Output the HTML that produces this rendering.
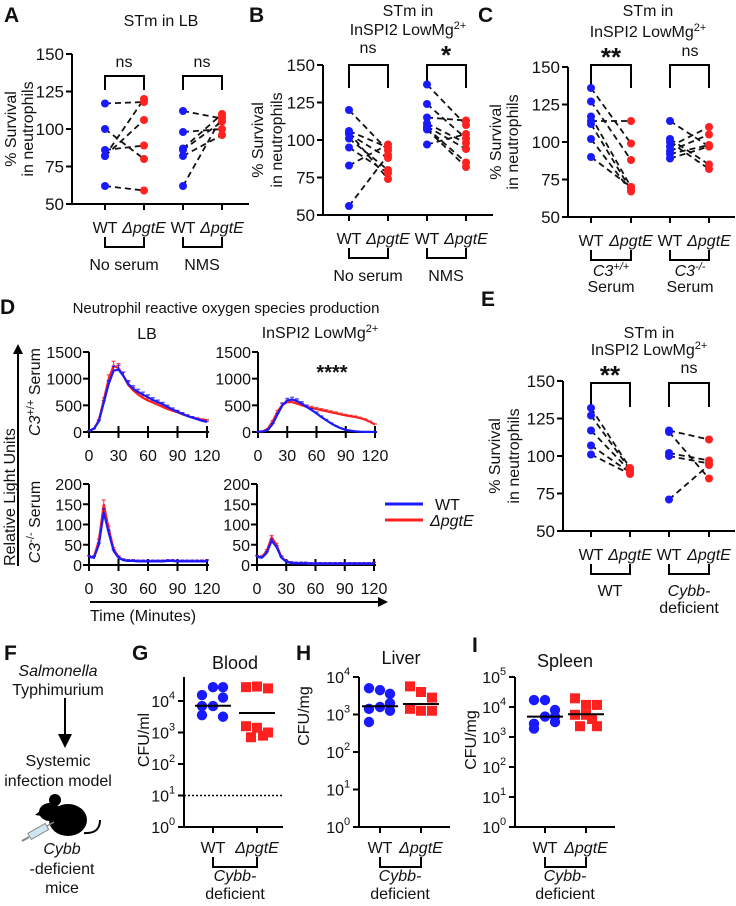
<!DOCTYPE html>
<html><head><meta charset="utf-8"><style>
html,body{margin:0;padding:0;background:#fff}
svg{display:block;font-family:"Liberation Sans",Arial,sans-serif}
text{fill:#111}
</style></head><body>
<svg id="fig" width="736" height="906" viewBox="0 0 736 906" xmlns="http://www.w3.org/2000/svg">
<g font-weight="bold" font-size="21">
<text x="4" y="22">A</text>
<text x="249" y="22">B</text>
<text x="478" y="22">C</text>
<text x="0" y="314">D</text>
<text x="481" y="306">E</text>
<text x="4" y="660">F</text>
<text x="132" y="660">G</text>
<text x="296" y="660">H</text>
<text x="472" y="652">I</text>
</g>
<g font-size="16" text-anchor="middle">
<text x="161" y="26">STm in LB</text>
<text x="408" y="16">STm in</text>
<text x="408" y="35">InSPI2 LowMg<tspan dy="-6" font-size="11">2+</tspan></text>
<text x="648" y="16">STm in</text>
<text x="648" y="37">InSPI2 LowMg<tspan dy="-6" font-size="11">2+</tspan></text>
<text x="649" y="338">STm in</text>
<text x="649" y="355">InSPI2 LowMg<tspan dy="-6" font-size="11">2+</tspan></text>
<text x="226" y="313" font-size="15">Neutrophil reactive oxygen species production</text>
<text x="147" y="339">LB</text>
<text x="320" y="338">InSPI2 LowMg<tspan dy="-6" font-size="11">2+</tspan></text>
<text x="235" y="669" font-size="18">Blood</text>
<text x="401" y="664" font-size="18">Liver</text>
<text x="565" y="667" font-size="18">Spleen</text>
</g>
<g font-size="16" text-anchor="middle">
<text x="124" y="67">ns</text>
<text x="202" y="67">ns</text>
<text x="368" y="53">ns</text>
<text x="446" y="64" font-size="26" font-weight="bold">*</text>
<text x="611" y="66" font-size="26" font-weight="bold">**</text>
<text x="690" y="56">ns</text>
<text x="610" y="384" font-size="26" font-weight="bold">**</text>
<text x="689" y="373">ns</text>
<text x="332" y="379" font-size="20" font-weight="bold">****</text>
</g>
<g font-size="16" text-anchor="middle">
<text transform="translate(16,129) rotate(-90)">% Survival</text>
<text transform="translate(33,129) rotate(-90)">in neutrophils</text>
<text transform="translate(263,140) rotate(-90)">% Survival</text>
<text transform="translate(282,140) rotate(-90)">in neutrophils</text>
<text transform="translate(501,142) rotate(-90)">% Survival</text>
<text transform="translate(518,142) rotate(-90)">in neutrophils</text>
<text transform="translate(500,456) rotate(-90)">% Survival</text>
<text transform="translate(519,456) rotate(-90)">in neutrophils</text>
<text transform="translate(15,497) rotate(-90)">Relative Light Units</text>
<text transform="translate(40,392) rotate(-90)"><tspan font-style="italic">C3</tspan><tspan dy="-6" font-size="11">+/+</tspan><tspan dy="6"> Serum</tspan></text>
<text transform="translate(40,522) rotate(-90)"><tspan font-style="italic">C3</tspan><tspan dy="-6" font-size="11">-/-</tspan><tspan dy="6"> Serum</tspan></text>
<text x="90" y="621" text-anchor="start">Time (Minutes)</text>
<text transform="translate(149,740) rotate(-90)">CFU/ml</text>
<text transform="translate(309,716) rotate(-90)">CFU/mg</text>
<text transform="translate(476,740) rotate(-90)">CFU/mg</text>
</g>
<g font-size="16" text-anchor="middle">
<text x="124" y="270">No serum</text>
<text x="202" y="270">NMS</text>
<text x="368" y="281">No serum</text>
<text x="446" y="281">NMS</text>
<text x="611" y="276" font-style="italic">C3<tspan dy="-6" font-size="11">+/+</tspan></text>
<text x="611" y="292">Serum</text>
<text x="690" y="276" font-style="italic">C3<tspan dy="-6" font-size="11">-/-</tspan></text>
<text x="690" y="292">Serum</text>
<text x="610" y="596">WT</text>
<text x="689" y="596" font-style="italic">Cybb-</text>
<text x="689" y="613">deficient</text>
<text x="235" y="881" font-style="italic">Cybb-</text>
<text x="235" y="899">deficient</text>
<text x="400" y="881" font-style="italic">Cybb-</text>
<text x="400" y="899">deficient</text>
<text x="565" y="881" font-style="italic">Cybb-</text>
<text x="565" y="899">deficient</text>
</g>
<g text-anchor="middle" font-size="16">
<text x="58" y="676" font-style="italic">Salmonella</text>
<text x="58" y="695">Typhimurium</text>
<line x1="65" y1="698" x2="65" y2="735" stroke="#000" stroke-width="2"/>
<polygon points="58,734 72,734 65,748" fill="#000"/>
<text x="58" y="766">Systemic</text>
<text x="58" y="786">infection model</text>
<g>
<ellipse cx="68" cy="820" rx="19" ry="16" fill="#000"/>
<ellipse cx="50" cy="812" rx="11" ry="9" fill="#000"/>
<circle cx="55" cy="800" r="6" fill="#000"/>
<polygon points="40,811 35,815 42,816" fill="#000"/>
<path d="M84,833 Q100,834 100,820" stroke="#000" stroke-width="2" fill="none"/>
</g>
<g>
<rect x="28" y="828" width="20" height="7" fill="#cfe6f0" stroke="#888" transform="rotate(-30 38 831)"/>
<line x1="47" y1="826" x2="54" y2="822" stroke="#888" stroke-width="1.5"/>
<line x1="22" y1="841" x2="29" y2="837" stroke="#888" stroke-width="2"/>
</g>
<text x="62" y="854" font-style="italic">Cybb</text>
<text x="62" y="874">-deficient</text>
<text x="62" y="893">mice</text>
</g>
<g font-size="16">
<line x1="385" y1="504" x2="423" y2="504" stroke="#1a1aff" stroke-width="3"/>
<text x="435" y="510">WT</text>
<line x1="385" y1="520" x2="423" y2="520" stroke="#ff2020" stroke-width="3"/>
<text x="430" y="526" font-style="italic">ΔpgtE</text>
</g>
<g>
<line x1="18" y1="352" x2="18" y2="566" stroke="#000" stroke-width="2"/>
<polygon points="13,354 23,354 18,344" fill="#000"/>
<line x1="90" y1="602" x2="380" y2="602" stroke="#000" stroke-width="2"/>
<polygon points="378,597 378,607 388,602" fill="#000"/>
</g>
</svg>
<script>
// ---- data: paired survival panels ----
const pctTicks=[50,75,100,125,150];
const aNoWT=[117,100,86,82,82,62];
const aNoKO=[118,80,89,120,106,59];
const aNmsWT=[112,98,87,86,82,62];
const aNmsKO=[107,100,110,105,96,108];
const bNoWT=[120,106,105,104,101,95,83,56];
const bNoKO=[93,95,74,88,80,78,97,90];
const bNmsWT=[137,124,115,111,109,108,107,97];
const bNmsKO=[110,101,113,98,94,85,82,104];
const cPosWT=[136,127,117,114,112,102,90];
const cPosKO=[99,88,70,114,68,67,70];
const cNegWT=[114,102,100,97,94,92,89];
const cNegKO=[97,85,82,110,105,98,97];
const eWtWT=[132,127,117,107,101];
const eWtKO=[92,91,90,89,88];
const eCyWT=[117,116,102,100,71];
const eCyKO=[111,85,97,95,94];
// ---- data: ROS time course ----
const timePts=[0,5,10,15,20,25,30,35,40,45,50,55,60,65,70,75,80,85,90,95,100,105,110,115,120];
const timeTicks=[0,30,60,90,120];
const rluTicksTop=[0,500,1000,1500];
const rluTicksBot=[0,50,100,150,200];
const lbPosWT=[20,60,200,550,900,1150,1170,1050,900,810,750,700,650,600,560,520,470,420,380,340,300,270,240,210,190];
const lbPosKO=[20,60,220,600,1000,1240,1200,1050,880,780,700,640,590,550,510,470,430,400,370,330,300,270,250,230,220];
const inPosWT=[5,10,40,150,330,500,590,610,580,530,470,410,350,280,220,160,110,70,40,25,12,6,3,2,1];
const inPosKO=[5,15,60,200,380,510,560,560,530,500,470,450,430,410,390,370,350,330,310,295,280,260,230,190,140];
const lbNegWT=[20,18,50,130,80,35,18,12,10,10,9,9,9,9,9,9,10,10,9,9,9,9,9,9,9];
const lbNegKO=[20,20,60,150,90,40,20,12,10,10,9,9,9,9,9,9,10,10,9,9,9,9,9,9,10];
const inNegWT=[20,18,30,60,45,18,8,5,4,4,4,3,3,3,3,3,3,3,3,3,3,3,3,3,3];
const inNegKO=[20,20,35,68,50,20,9,5,4,4,4,3,3,3,3,3,3,3,3,3,3,3,3,3,4];
// ---- data: CFU (log10) ----
const logTicksG=[0,1,2,3,4];
const logTicksH=[0,1,2,3,4];
const logTicksI=[0,1,2,3,4,5];
const gWT=[4.19,4.44,4.44,4.11,3.84,3.84,3.5,3.55];
const gKO=[4.44,4.46,4.4,3.2,3.15,3.0,2.85,2.9];
const gMean=[3.85,3.62];
const gLimit=[1];
const hWT=[3.7,3.65,3.55,3.3,3.2,3.15,3.1,2.8];
const hKO=[3.75,3.6,3.45,3.15,3.1,3.1];
const hMean=[3.22,3.28];
const iWT=[4.23,4.23,3.9,3.68,3.68,3.44,3.5,3.28];
const iKO=[4.29,4.07,4.07,3.74,3.74,3.36,3.36,3.6];
const iMean=[3.68,3.76];

const NS='http://www.w3.org/2000/svg';
const svg=document.getElementById('fig');
function mk(tag,attrs,parent){const e=document.createElementNS(NS,tag);for(const k in attrs)e.setAttribute(k,attrs[k]);(parent||svg).appendChild(e);return e;}
const BLUE='#1a1aff',RED='#ff2020';

function paired(c){
  const g=mk('g',{});
  
  
  const y=v=>c.y50-(v-50)*(c.y50-c.y150)/100;
  const ya=mk('line',{x1:c.ax,y1:y(150),x2:c.ax,y2:c.y50+1,stroke:'#000','stroke-width':2},g);
  
  
  const xa=mk('line',{x1:c.ax-1,y1:c.y50,x2:c.xEnd,y2:c.y50,stroke:'#000','stroke-width':2},g);
  
  
  pctTicks.forEach(v=>{
    const t=mk('line',{x1:c.ax-6,y1:y(v),x2:c.ax,y2:y(v),stroke:'#000','stroke-width':2},g);
    
    
    const l=mk('text',{x:c.ax-8,y:y(v)+6,'text-anchor':'end','font-size':17},g);l.textContent=v;
    
    
  });
  c.g.forEach((gx,i)=>{
    const t=mk('line',{x1:gx,y1:c.y50,x2:gx,y2:c.y50+6,stroke:'#000','stroke-width':2},g);
    
    
    const l=mk('text',{x:gx,y:c.y50+29,'text-anchor':'middle','font-size':16},g);
    l.textContent=i%2?'ΔpgtE':'WT';
    if(i%2)l.setAttribute('font-style','italic');
    
    
  });
  [0,2].forEach(k=>{
    const b=mk('path',{d:`M${c.g[k]},${c.y50+33}V${c.y50+43}H${c.g[k+1]}V${c.y50+33}`,stroke:'#000','stroke-width':2,fill:'none'},g);
    
    
    const s=mk('path',{d:`M${c.g[k]},${c.sb}V${c.st}H${c.g[k+1]}V${c.sb}`,stroke:'#000','stroke-width':2,fill:'none'},g);
    
    
  });
  c.pairs.forEach((p,k)=>{
    const x0=c.g[2*k],x1=c.g[2*k+1];
    p[0].forEach((v,i)=>{
      const ln=mk('line',{x1:x0,y1:y(v),x2:x1,y2:y(p[1][i]),stroke:'#111','stroke-width':1.8,'stroke-dasharray':'6,4'},g);
      
      
    });
    p[0].forEach(v=>{
      const d=mk('circle',{cx:x0,cy:y(v),r:4,fill:BLUE},g);
      
      
    });
    p[1].forEach(v=>{
      const d=mk('circle',{cx:x1,cy:y(v),r:4,fill:RED},g);
      
      
    });
  });
}
paired({name:'panel-a-chart',ax:72,y150:54,y50:204,xEnd:249,g:[105,144,183,222],st:76,sb:90,pairs:[[aNoWT,aNoKO],[aNmsWT,aNmsKO]]});
paired({name:'panel-b-chart',ax:323,y150:65,y50:215,xEnd:493,g:[349,388,427,466],st:65,sb:88,pairs:[[bNoWT,bNoKO],[bNmsWT,bNmsKO]]});
paired({name:'panel-c-chart',ax:568,y150:67,y50:217,xEnd:735,g:[591,631,670,709],st:65,sb:88,pairs:[[cPosWT,cPosKO],[cNegWT,cNegKO]]});
paired({name:'panel-e-chart',ax:563,y150:381,y50:531,xEnd:735,g:[591,630,669,709],st:383,sb:407,pairs:[[eWtWT,eWtKO],[eCyWT,eCyKO]]});

function tc(c){
  const g=mk('g',{});
  
  
  const ymax=c.ticks[c.ticks.length-1];
  const x=t=>c.x0+t*(c.x1-c.x0)/120;
  const y=v=>c.yb-v*(c.yb-c.yt)/ymax;
  const ya=mk('line',{x1:c.x0,y1:c.yt,x2:c.x0,y2:c.yb+1,stroke:'#000','stroke-width':2},g);
  
  
  const xa=mk('line',{x1:c.x0-1,y1:c.yb,x2:c.x1+2,y2:c.yb,stroke:'#000','stroke-width':2},g);
  
  
  c.ticks.forEach(v=>{
    const t=mk('line',{x1:c.x0-6,y1:y(v),x2:c.x0,y2:y(v),stroke:'#000','stroke-width':2},g);
    
    
    const l=mk('text',{x:c.x0-7,y:y(v)+6,'text-anchor':'end','font-size':16},g);l.textContent=v;
    
    
  });
  timeTicks.forEach(v=>{
    const t=mk('line',{x1:x(v),y1:c.yb-6,x2:x(v),y2:c.yb+6,stroke:'#000','stroke-width':2},g);
    
    
    const l=mk('text',{x:x(v),y:c.yb+29,'text-anchor':'middle','font-size':16},g);l.textContent=v;
    
    
  });
  [[c.ko,RED,'pgte'],[c.wt,BLUE,'wt']].forEach(([arr,col,nm])=>{
    arr.forEach((v,i)=>{
      const e=Math.max(v*0.07,3)*(c.yb-c.yt)/ymax;
      const eb=mk('path',{d:`M${x(timePts[i])},${y(v)}V${y(v)-e}M${x(timePts[i])-2},${y(v)-e}H${x(timePts[i])+2}`,stroke:col,'stroke-width':1.2,fill:'none',opacity:0.8},g);
      
      
    });
    const pl=mk('polyline',{points:arr.map((v,i)=>x(timePts[i])+','+y(v)).join(' '),stroke:col,'stroke-width':2.2,fill:'none'},g);
    
    
  });
}
tc({name:'d-lb-c3pos',x0:89,x1:207,yt:352,yb:432,ticks:rluTicksTop,wt:lbPosWT,ko:lbPosKO});
tc({name:'d-inspi2-c3pos',x0:258,x1:375,yt:352,yb:432,ticks:rluTicksTop,wt:inPosWT,ko:inPosKO});
tc({name:'d-lb-c3neg',x0:89,x1:207,yt:484,yb:565,ticks:rluTicksBot,wt:lbNegWT,ko:lbNegKO});
tc({name:'d-inspi2-c3neg',x0:257,x1:374,yt:484,yb:565,ticks:rluTicksBot,wt:inNegWT,ko:inNegKO});

const jitW=[-11,0,10,10,0,-11,10,-11];
const jitK=[-11,0,11,-11,0,11,-6,6];
function logp(c){
  const g=mk('g',{});
  
  
  const y=v=>c.y0-v*c.dec;
  const ya=mk('line',{x1:c.ax,y1:c.top,x2:c.ax,y2:c.y0+1,stroke:'#000','stroke-width':2},g);
  
  
  const xa=mk('line',{x1:c.ax-1,y1:c.y0,x2:c.xEnd,y2:c.y0,stroke:'#000','stroke-width':2},g);
  
  
  c.ticks.forEach(v=>{
    const t=mk('line',{x1:c.ax-6,y1:y(v),x2:c.ax,y2:y(v),stroke:'#000','stroke-width':2},g);
    
    
    const l=mk('text',{x:c.ax-15,y:y(v)+6,'text-anchor':'end','font-size':16},g);l.textContent='10';
    
    
    const s=mk('text',{x:c.ax-15,y:y(v)-2,'text-anchor':'start','font-size':11},g);s.textContent=v;
    
    
  });
  [c.gx[0],c.gx[1]].forEach((gx,i)=>{
    const t=mk('line',{x1:gx,y1:c.y0,x2:gx,y2:c.y0+6,stroke:'#000','stroke-width':2},g);
    
    
    const l=mk('text',{x:gx,y:c.y0+26,'text-anchor':'middle','font-size':16},g);
    l.textContent=i?'ΔpgtE':'WT';
    if(i)l.setAttribute('font-style','italic');
    
    
  });
  const br=mk('path',{d:`M${c.gx[0]},${c.y0+30}V${c.y0+40}H${c.gx[1]}V${c.y0+30}`,stroke:'#000','stroke-width':2,fill:'none'},g);
  
  
  if(c.limit){
    const dl=mk('line',{x1:c.ax,y1:y(c.limit[0]),x2:c.xEnd,y2:y(c.limit[0]),stroke:'#000','stroke-width':1.5,'stroke-dasharray':'2,2'},g);
    
    
  }
  c.wt.forEach((v,i)=>{
    const d=mk('circle',{cx:c.gx[0]+jitW[i%8],cy:y(v),r:5.2,fill:BLUE},g);
    
    
  });
  c.ko.forEach((v,i)=>{
    const d=mk('rect',{x:c.gx[1]+jitK[i%8]-5,y:y(v)-5,width:10,height:10,fill:RED},g);
    
    
  });
  c.mean.forEach((v,i)=>{
    const m=mk('line',{x1:c.gx[i]-18,y1:y(v),x2:c.gx[i]+18,y2:y(v),stroke:'#000','stroke-width':2},g);
    
    
  });
}
logp({name:'panel-g-chart',ax:184,top:677,y0:827,dec:31.5,xEnd:283,gx:[213,257],ticks:logTicksG,wt:gWT,ko:gKO,mean:gMean,limit:gLimit});
logp({name:'panel-h-chart',ax:359,top:677,y0:827,dec:37.5,xEnd:450,gx:[380,421],ticks:logTicksH,wt:hWT,ko:hKO,mean:hMean});
logp({name:'panel-i-chart',ax:515,top:677,y0:827,dec:30,xEnd:615,gx:[545,586],ticks:logTicksI,wt:iWT,ko:iKO,mean:iMean});
</script>
</body></html>
